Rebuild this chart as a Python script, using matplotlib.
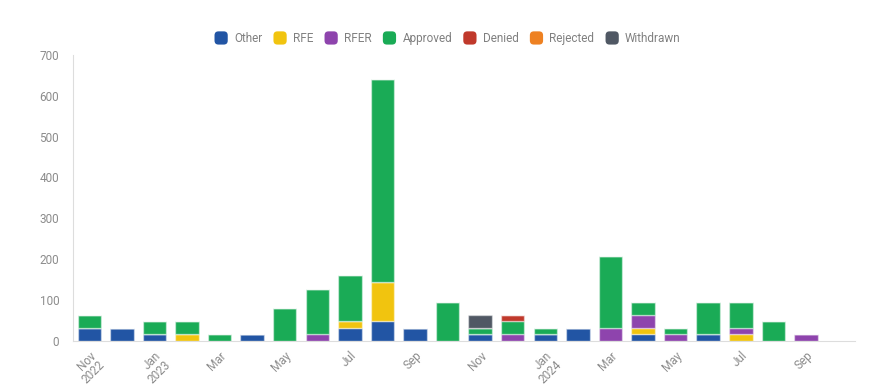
import matplotlib.pyplot as plt
import numpy as np
from matplotlib.patches import FancyBboxPatch
from matplotlib.legend_handler import HandlerPatch

plt.rcParams['font.family'] = ['Roboto', 'DejaVu Sans']

# monthly buckets, Nov 2022 .. Oct 2024
months = ['2022-11', '2022-12', '2023-01', '2023-02', '2023-03', '2023-04',
          '2023-05', '2023-06', '2023-07', '2023-08', '2023-09', '2023-10',
          '2023-11', '2023-12', '2024-01', '2024-02', '2024-03', '2024-04',
          '2024-05', '2024-06', '2024-07', '2024-08', '2024-09', '2024-10']

other     = [32, 32, 16, 0, 0, 16, 0, 0, 32, 48, 32, 0, 16, 0, 16, 32, 0, 16, 0, 16, 0, 0, 0, 0]
rfe       = [0, 0, 0, 16, 0, 0, 0, 0, 16, 96, 0, 0, 0, 0, 0, 0, 0, 16, 0, 0, 16, 0, 0, 0]
rfer      = [0, 0, 0, 0, 0, 0, 0, 16, 0, 0, 0, 0, 0, 16, 0, 0, 32, 32, 16, 0, 16, 0, 16, 0]
approved  = [32, 0, 32, 32, 16, 0, 80, 112, 112, 496, 0, 96, 16, 32, 16, 0, 176, 32, 16, 80, 64, 48, 0, 0]
denied    = [0, 0, 0, 0, 0, 0, 0, 0, 0, 0, 0, 0, 0, 16, 0, 0, 0, 0, 0, 0, 0, 0, 0, 0]
rejected  = [0] * 24
withdrawn = [0, 0, 0, 0, 0, 0, 0, 0, 0, 0, 0, 0, 32, 0, 0, 0, 0, 0, 0, 0, 0, 0, 0, 0]

tick_labels = ['Nov\n2022', 'Jan\n2023', 'Mar', 'May', 'Jul', 'Sep',
               'Nov', 'Jan\n2024', 'Mar', 'May', 'Jul', 'Sep']

series = [('Other', other, '#2255a4'),
          ('RFE', rfe, '#f1c40f'),
          ('RFER', rfer, '#8e44ad'),
          ('Approved', approved, '#1aab56'),
          ('Denied', denied, '#c0392b'),
          ('Rejected', rejected, '#ee8122'),
          ('Withdrawn', withdrawn, '#505864')]


class RoundHandler(HandlerPatch):
    def create_artists(self, legend, orig_handle, xdescent, ydescent,
                       width, height, fontsize, trans):
        s = height * 1.6
        p = FancyBboxPatch((width / 2 - s / 2 - xdescent, height / 2 - s / 2 - ydescent), s, s,
                           boxstyle='round,pad=0,rounding_size=%f' % (s * 0.3),
                           facecolor=orig_handle.get_facecolor(), edgecolor='none',
                           transform=trans)
        return [p]


fig = plt.figure(figsize=(8.96, 3.86), dpi=100)
ax = fig.add_axes([0.0815, 0.117, 0.8725, 0.741])

x = np.arange(len(months))
bottom = np.zeros(len(months))
handles = []
for name, vals, col in series:
    vals = np.array(vals, dtype=float)
    b = ax.bar(x, vals, width=0.72, bottom=bottom, color=col,
               edgecolor=(1, 1, 1, 0.45), linewidth=1.0, label=name)
    handles.append(b.patches[0])
    bottom += vals

ax.set_xlim(-0.5, len(months) - 0.5)
ax.set_ylim(0, 700)
ax.set_yticks(range(0, 701, 100))
ax.set_xticks(x[::2])
ax.set_xticklabels(tick_labels, rotation=45, ha='right', rotation_mode='anchor',
                   va='top', linespacing=1.0)

for s in ['top', 'right']:
    ax.spines[s].set_visible(False)
for s in ['left', 'bottom']:
    ax.spines[s].set_color('#dddddd')
ax.tick_params(length=0, colors='#8c8c8c', labelsize=8.5)
ax.tick_params(axis='y', pad=10)
ax.tick_params(axis='x', pad=6)

fig.legend(handles, [s[0] for s in series], loc='center', bbox_to_anchor=(0.5, 0.9),
           ncol=7, frameon=False, fontsize=8.5, labelcolor='#808080',
           handler_map={h: RoundHandler() for h in handles},
           handlelength=1.0, handletextpad=0.6, columnspacing=1.0)

fig.savefig('out.png', dpi=100)
